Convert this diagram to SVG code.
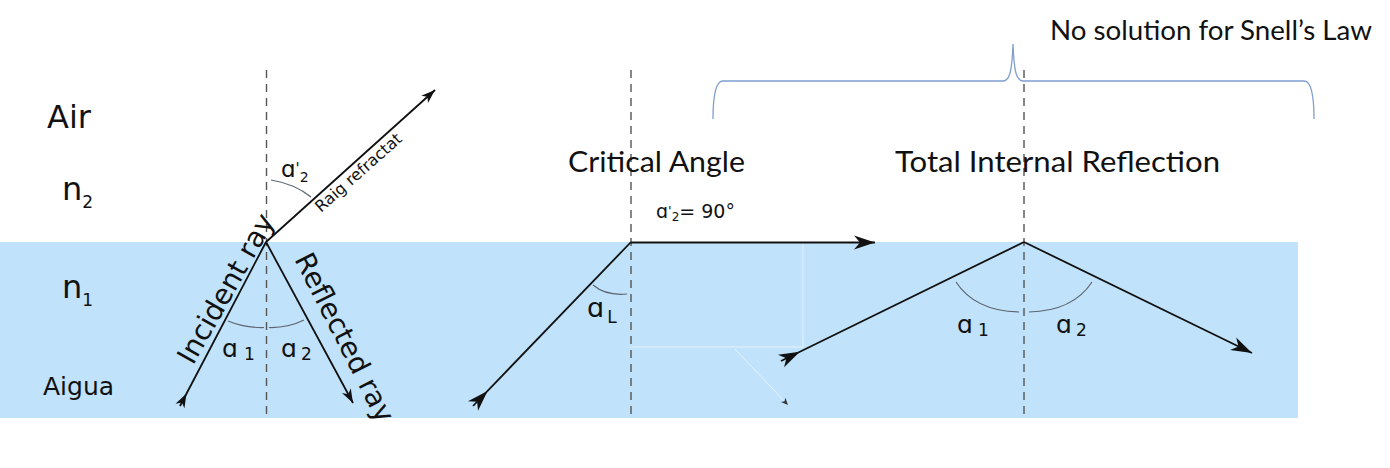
<svg xmlns="http://www.w3.org/2000/svg" width="1390" height="468" viewBox="0 0 1390 468">
<style>
.lbl{font-family:"DejaVu Sans",Verdana,sans-serif;fill:#111}
.ttl{font-family:Lato,"Open Sans",sans-serif;fill:#111}
.ray{stroke:#111;stroke-width:1.8;fill:none}
.normal{stroke:#555;stroke-width:1.4;stroke-dasharray:8 6;fill:none}
.arc{stroke:#5c6670;stroke-width:1.2;fill:none}
.ghost{stroke:#e4f2fd;stroke-width:1;fill:none}
</style>
<defs>
<marker id="aSe" markerUnits="userSpaceOnUse" viewBox="-15 -6 16 12" markerWidth="16" markerHeight="12" refX="0" refY="0" orient="auto"><path d="M0,0 L-14,-5 L-10,0 L-14,5 Z" fill="#111"/></marker>
<marker id="aSs" markerUnits="userSpaceOnUse" viewBox="-1 -6 16 12" markerWidth="16" markerHeight="12" refX="0" refY="0" orient="auto"><path d="M14,0 L0,-5 L4,0 L0,5 Z" fill="#111"/></marker>
<marker id="aLe" markerUnits="userSpaceOnUse" viewBox="-23 -8 24 16" markerWidth="24" markerHeight="16" refX="0" refY="0" orient="auto"><path d="M0,0 L-21,-7 L-15,0 L-21,7 Z" fill="#111"/></marker>
<marker id="aLs" markerUnits="userSpaceOnUse" viewBox="-1 -8 24 16" markerWidth="24" markerHeight="16" refX="0" refY="0" orient="auto"><path d="M21,0 L0,-7 L6,0 L0,7 Z" fill="#111"/></marker>
<marker id="aT" markerUnits="userSpaceOnUse" viewBox="-8 -4 9 8" markerWidth="9" markerHeight="8" refX="0" refY="0" orient="auto"><path d="M0,0 L-7,-3 L-5,0 L-7,3 Z" fill="#333"/></marker>
</defs>

<g id="water"><rect x="0" y="242" width="1298" height="176" fill="#c0e2fa"/></g>

<g id="ghosts">
<path class="ghost" d="M631,347 H803 V243"/>
<line class="ghost" x1="735" y1="349" x2="788" y2="405" marker-end="url(#aT)"/>
</g>

<g id="media-labels">
<text class="lbl" x="47" y="128" font-size="32">Air</text>
<text class="lbl" x="62" y="200" font-size="32">n<tspan font-size="17" dy="8">2</tspan></text>
<text class="lbl" x="62" y="298" font-size="32">n<tspan font-size="17" dy="8">1</tspan></text>
<text class="lbl" x="43" y="395" font-size="25">Aigua</text>
</g>

<g id="brace">
<path d="M713,119 Q713,81 723,81 L1003,81 C1010,81 1012,70 1013,44 C1014,70 1016,81 1023,81 L1304,81 Q1314,81 1314,119" fill="none" stroke="#7f9fcf" stroke-width="1.3"/>
<text class="ttl" x="1050" y="40" font-size="27" textLength="322" lengthAdjust="spacingAndGlyphs">No solution for Snell’s Law</text>
</g>

<g id="connectors">
<line class="normal" x1="266.5" y1="70" x2="266.5" y2="415"/>
<line class="normal" x1="631" y1="70" x2="631" y2="415"/>
<line class="normal" x1="1024" y1="70" x2="1024" y2="415"/>
<line class="ray" x1="180" y1="406" x2="266" y2="242" marker-start="url(#aSs)"/>
<line class="ray" x1="266" y1="242" x2="435" y2="90" marker-end="url(#aSe)"/>
<line class="ray" x1="266" y1="242" x2="353" y2="403" marker-end="url(#aSe)"/>
<line class="ray" x1="473" y1="406" x2="631" y2="242" marker-start="url(#aLs)"/>
<line class="ray" x1="631" y1="242.5" x2="875" y2="242.5" marker-end="url(#aLe)"/>
<line class="ray" x1="781" y1="361" x2="1024" y2="242" marker-start="url(#aLs)"/>
<line class="ray" x1="1024" y1="242" x2="1252" y2="353" marker-end="url(#aLe)"/>
</g>

<g id="node-reflection-refraction">
<path class="arc" d="M228,321 Q245,328 264,327.5"/>
<path class="arc" d="M269,327.5 Q288,328 304,320"/>
<path class="arc" d="M271,180 Q295,184 311,197"/>
<text class="lbl" x="281" y="177" font-size="23">ɑ<tspan font-size="15" dy="-3">'</tspan><tspan font-size="14" dx="0" dy="8">2</tspan></text>
<text class="lbl" x="222" y="357" font-size="25">ɑ<tspan font-size="17" dx="6" dy="3">1</tspan></text>
<text class="lbl" x="281" y="357" font-size="25">ɑ<tspan font-size="17" dx="4" dy="3">2</tspan></text>
<text class="lbl" font-size="28" transform="translate(193,366) rotate(-60.5)">Incident ray</text>
<text class="lbl" font-size="28" transform="translate(294,259) rotate(63)">Reflected ray</text>
<text class="lbl" font-size="16" transform="translate(321,213) rotate(-41.5)">Raig refractat</text>
</g>

<g id="node-critical-angle">
<text class="ttl" x="568" y="172" font-size="28" textLength="177" lengthAdjust="spacingAndGlyphs">Critical Angle</text>
<path class="arc" d="M593,285 Q606,296 627,294"/>
<text class="lbl" x="587" y="317" font-size="27">ɑ<tspan font-size="17" dx="3" dy="6">L</tspan></text>
<text class="lbl" x="656" y="218" font-size="19">ɑ<tspan font-size="13" dy="-3">'</tspan><tspan font-size="12" dy="6">2</tspan><tspan dy="-3">= 90°</tspan></text>
</g>

<g id="node-total-internal-reflection">
<text class="ttl" x="895" y="172" font-size="28" textLength="325" lengthAdjust="spacingAndGlyphs">Total Internal Reflection</text>
<path class="arc" d="M956,282 Q975,311 1019,312"/>
<path class="arc" d="M1029,312 Q1073,311 1092,282"/>
<text class="lbl" x="957" y="333" font-size="25">ɑ<tspan font-size="17" dx="5" dy="3">1</tspan></text>
<text class="lbl" x="1056" y="333" font-size="25">ɑ<tspan font-size="17" dx="4" dy="3">2</tspan></text>
</g>
</svg>
